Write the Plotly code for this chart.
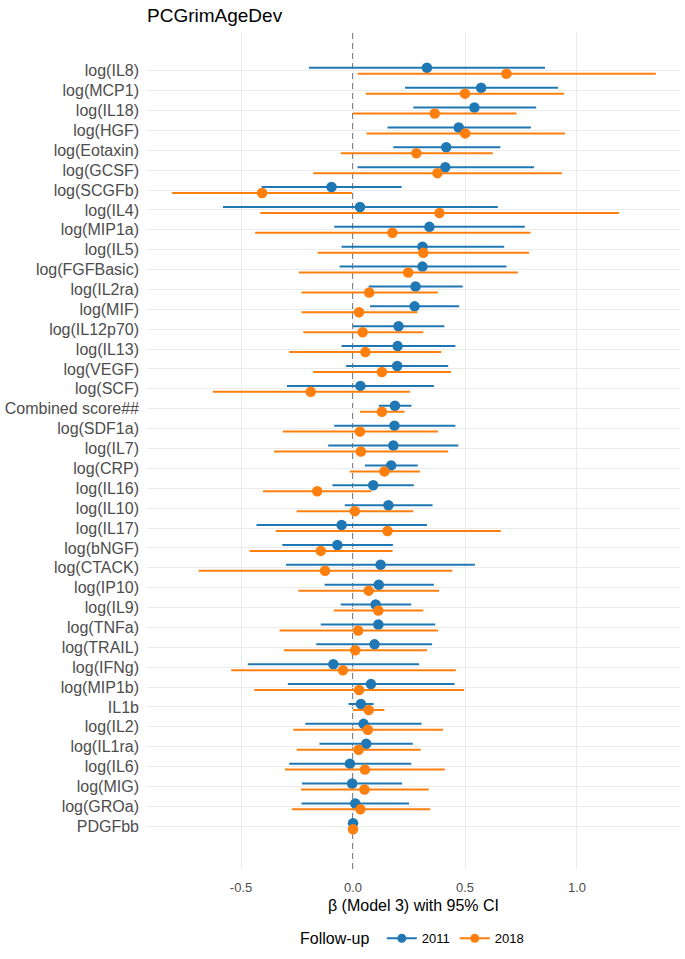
import plotly.graph_objects as go

categories = ["log(IL8)", "log(MCP1)", "log(IL18)", "log(HGF)", "log(Eotaxin)", "log(GCSF)",
              "log(SCGFb)", "log(IL4)", "log(MIP1a)", "log(IL5)", "log(FGFBasic)", "log(IL2ra)",
              "log(MIF)", "log(IL12p70)", "log(IL13)", "log(VEGF)", "log(SCF)", "Combined score##",
              "log(SDF1a)", "log(IL7)", "log(CRP)", "log(IL16)", "log(IL10)", "log(IL17)",
              "log(bNGF)", "log(CTACK)", "log(IP10)", "log(IL9)", "log(TNFa)", "log(TRAIL)",
              "log(IFNg)", "log(MIP1b)", "IL1b", "log(IL2)", "log(IL1ra)", "log(IL6)",
              "log(MIG)", "log(GROa)", "PDGFbb"]

est_2011 = [0.33, 0.572, 0.542, 0.472, 0.416, 0.412, -0.096, 0.031, 0.341, 0.31, 0.31, 0.279,
            0.275, 0.203, 0.199, 0.197, 0.033, 0.187, 0.185, 0.18, 0.17, 0.09, 0.158, -0.051,
            -0.07, 0.123, 0.115, 0.101, 0.113, 0.096, -0.088, 0.08, 0.035, 0.047, 0.059, -0.014,
            -0.004, 0.01, 0.0]
lo_2011 = [-0.197, 0.232, 0.269, 0.154, 0.18, 0.02, -0.408, -0.581, -0.084, -0.051, -0.06, 0.07,
           0.076, 0.0, -0.051, -0.031, -0.295, 0.115, -0.084, -0.111, 0.053, -0.092, -0.037, -0.431,
           -0.316, -0.299, -0.127, -0.055, -0.144, -0.164, -0.47, -0.291, -0.02, -0.213, -0.15, -0.285,
           -0.228, -0.23, -0.004]
hi_2011 = [0.857, 0.915, 0.818, 0.794, 0.658, 0.808, 0.217, 0.646, 0.767, 0.675, 0.685, 0.49,
           0.474, 0.408, 0.457, 0.425, 0.361, 0.261, 0.457, 0.47, 0.289, 0.271, 0.355, 0.33,
           0.178, 0.544, 0.361, 0.26, 0.367, 0.353, 0.295, 0.453, 0.092, 0.306, 0.267, 0.26,
           0.219, 0.25, 0.006]

est_2018 = [0.685, 0.50, 0.365, 0.501, 0.283, 0.377, -0.406, 0.386, 0.176, 0.314, 0.246, 0.072,
            0.027, 0.043, 0.055, 0.129, -0.189, 0.129, 0.031, 0.035, 0.14, -0.16, 0.008, 0.154,
            -0.144, -0.125, 0.07, 0.113, 0.023, 0.01, -0.045, 0.027, 0.07, 0.066, 0.025, 0.053,
            0.051, 0.033, 0.0]
lo_2018 = [0.021, 0.057, 0.0, 0.06, -0.055, -0.178, -0.808, -0.414, -0.437, -0.158, -0.242, -0.23,
           -0.23, -0.222, -0.285, -0.178, -0.626, 0.031, -0.314, -0.353, -0.014, -0.402, -0.252, -0.345,
           -0.462, -0.689, -0.244, -0.086, -0.328, -0.308, -0.544, -0.441, 0.0, -0.267, -0.252, -0.304,
           -0.232, -0.273, -0.004]
hi_2018 = [1.352, 0.942, 0.73, 0.946, 0.624, 0.933, -0.004, 1.188, 0.792, 0.786, 0.736, 0.379,
           0.287, 0.314, 0.394, 0.437, 0.254, 0.23, 0.379, 0.425, 0.299, 0.082, 0.269, 0.66,
           0.176, 0.443, 0.384, 0.314, 0.379, 0.33, 0.459, 0.496, 0.14, 0.402, 0.302, 0.41,
           0.338, 0.345, 0.006]

series = [("2011", est_2011, lo_2011, hi_2011, "#1f77b4", 0.15),
          ("2018", est_2018, lo_2018, hi_2018, "#ff7f0e", -0.15)]

n = len(categories)
ypos = [n - 1 - i for i in range(n)]  # top category at the top

FONT = "Liberation Sans, Arial, sans-serif"
fig = go.Figure()

for name, est, lo, hi, col, dodge in series:
    fig.add_trace(go.Scatter(
        x=est, y=[p + dodge for p in ypos], mode="markers",
        marker=dict(color=col, size=10.5),
        error_x=dict(type="data", symmetric=False,
                     array=[h - e for h, e in zip(hi, est)],
                     arrayminus=[e - l for e, l in zip(est, lo)],
                     color=col, thickness=2, width=0),
        showlegend=False, name=name, legendgroup=name))
    fig.add_trace(go.Scatter(
        x=[None], y=[None], mode="lines+markers", name=name, legendgroup=name,
        line=dict(color=col, width=2), marker=dict(color=col, size=9),
        showlegend=True))

fig.add_shape(type="line", xref="x", yref="paper", x0=0, x1=0, y0=0, y1=1,
              line=dict(color="#555555", width=1.5, dash="6px,4px"), layer="below")

fig.update_layout(
    width=685, height=959,
    margin=dict(l=147, r=5, t=32, b=87),
    paper_bgcolor="white", plot_bgcolor="white",
    font=dict(family=FONT, color="#4d4d4d"),
    title=dict(text="PCGrimAgeDev", x=147 / 685, xanchor="left", xref="container",
               y=1 - 15 / 959, yanchor="middle", font=dict(size=19, color="black", family=FONT)),
    xaxis=dict(range=[-0.92, 1.46], tickvals=[-0.5, 0, 0.5, 1.0],
               ticktext=["-0.5", "0.0", "0.5", "1.0"],
               showgrid=True, gridcolor="#ebebeb", gridwidth=1.2, zeroline=False,
               showline=False, ticks="", tickfont=dict(size=13, color="#4d4d4d"),
               ticklabelstandoff=9,
               title=dict(text="β (Model 3) with 95% CI", font=dict(size=16, color="black"),
                          standoff=5)),
    yaxis=dict(range=[-2.15, n - 1 + 1.95], tickvals=ypos, ticktext=categories,
               showgrid=True, gridcolor="#ebebeb", gridwidth=1.2, zeroline=False,
               showline=False, ticks="", tickfont=dict(size=16, color="#4d4d4d"),
               ticklabelstandoff=7),
    legend=dict(orientation="h", x=0.5, xanchor="center", y=-0.102, yanchor="bottom",
                xref="paper", title=dict(text="Follow-up ", font=dict(size=16, color="black"), side="left"),
                font=dict(size=13, color="black"), itemwidth=30, tracegroupgap=0),
)

fig.write_html("out.html")
